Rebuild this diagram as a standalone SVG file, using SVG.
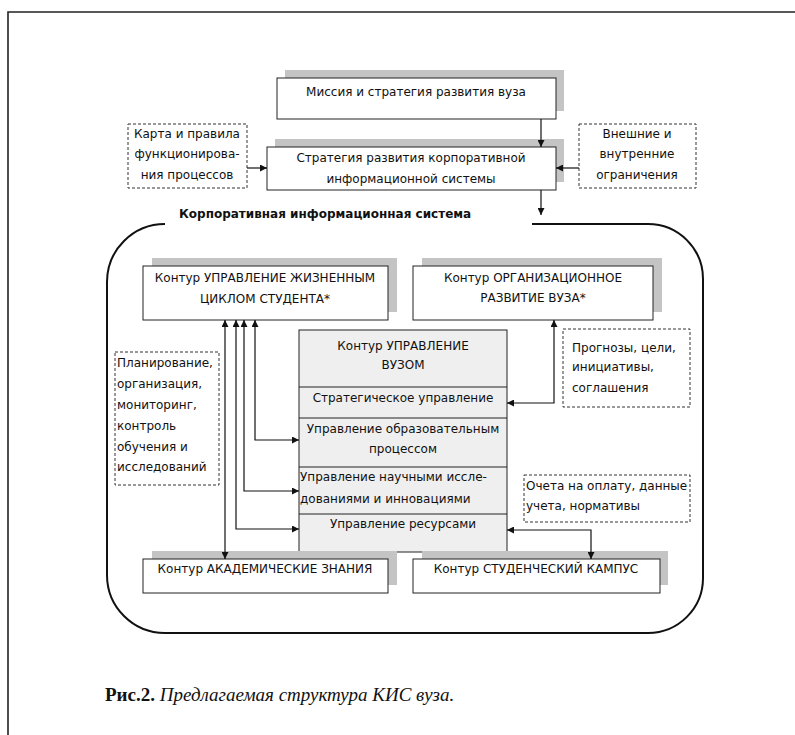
<svg xmlns="http://www.w3.org/2000/svg" width="795" height="735" viewBox="0 0 795 735">
<style>
.t{font-family:"DejaVu Sans","Liberation Sans",sans-serif;font-size:12px;fill:#111}
.c{text-anchor:middle}
.b{font-weight:bold}
.box{fill:#fff;stroke:#222;stroke-width:1}
.sh{fill:#c4c4c4}
.dash{fill:#fff;stroke:#333;stroke-width:1;stroke-dasharray:3,2}
.ln{fill:none;stroke:#111;stroke-width:1.2}
.cap{font-family:"Liberation Serif","DejaVu Serif",serif;font-size:19px;fill:#111}
</style>
<defs>
<marker id="ah" viewBox="0 0 10 10" refX="10" refY="5" markerWidth="7" markerHeight="7" markerUnits="userSpaceOnUse" orient="auto-start-reverse">
<path d="M0,0 L10,5 L0,10 z" fill="#111"/>
</marker>
</defs>
<rect width="795" height="735" fill="#fff"/>
<path d="M8,735 V12 H795" fill="none" stroke="#222" stroke-width="1.6"/>

<g id="kis-outline">
<path d="M532,224 H648 A55,55 0 0 1 703,279 V578 A55,55 0 0 1 648,633 H165 A58,58 0 0 1 107,575 V282 A58,58 0 0 1 165,224" fill="none" stroke="#111" stroke-width="2"/>
<text class="t b" x="179" y="218">Корпоративная информационная система</text>
</g>

<g id="mission">
<rect class="sh" x="285" y="70" width="279" height="41"/>
<rect class="box" x="277" y="78" width="279" height="41"/>
<text class="t c" x="416" y="96">Миссия и стратегия развития вуза</text>
</g>

<g id="strategy">
<rect class="sh" x="275" y="139" width="289" height="43"/>
<rect class="box" x="267" y="147" width="289" height="43"/>
<text class="t c" x="411" y="162">Стратегия развития корпоративной</text>
<text class="t c" x="411" y="183">информационной системы</text>
</g>

<g id="map-rules">
<rect class="dash" x="128" y="124" width="119" height="64"/>
<text class="t c" x="187" y="138">Карта и правила</text>
<text class="t c" x="187" y="158">функционирова-</text>
<text class="t c" x="187" y="179">ния процессов</text>
</g>

<g id="constraints">
<rect class="dash" x="579" y="124" width="117" height="64"/>
<text class="t c" x="637" y="138">Внешние и</text>
<text class="t c" x="637" y="158">внутренние</text>
<text class="t c" x="637" y="179">ограничения</text>
</g>

<g id="lifecycle">
<rect class="sh" x="152" y="258" width="245" height="54"/>
<rect class="box" x="143" y="266" width="245" height="54"/>
<text class="t c" x="265" y="282">Контур УПРАВЛЕНИЕ ЖИЗНЕННЫМ</text>
<text class="t c" x="265" y="303">ЦИКЛОМ СТУДЕНТА*</text>
</g>

<g id="orgdev">
<rect class="sh" x="422" y="258" width="240" height="54"/>
<rect class="box" x="413" y="266" width="240" height="54"/>
<text class="t c" x="533" y="282">Контур ОРГАНИЗАЦИОННОЕ</text>
<text class="t c" x="533" y="302">РАЗВИТИЕ ВУЗА*</text>
</g>

<g id="management">
<rect x="299" y="330" width="208" height="222" fill="#efefef" stroke="#222" stroke-width="1"/>
<line x1="299" y1="387" x2="507" y2="387" stroke="#222"/>
<line x1="299" y1="418" x2="507" y2="418" stroke="#222"/>
<line x1="299" y1="467" x2="507" y2="467" stroke="#222"/>
<line x1="299" y1="514" x2="507" y2="514" stroke="#222"/>
<text class="t c" x="403" y="350">Контур  УПРАВЛЕНИЕ</text>
<text class="t c" x="403" y="369">ВУЗОМ</text>
<text class="t c" x="403" y="402">Стратегическое управление</text>
<text class="t c" x="403" y="433">Управление образовательным</text>
<text class="t c" x="403" y="453">процессом</text>
<text class="t" x="300" y="481">Управление научными иссле-</text>
<text class="t" x="300" y="503">дованиями и инновациями</text>
<text class="t c" x="403" y="528">Управление ресурсами</text>
</g>

<g id="planning">
<rect class="dash" x="115" y="352" width="104" height="133"/>
<text class="t" x="117" y="367">Планирование,</text>
<text class="t" x="117" y="388">организация,</text>
<text class="t" x="117" y="409">мониторинг,</text>
<text class="t" x="117" y="430">контроль</text>
<text class="t" x="117" y="451">обучения и</text>
<text class="t" x="117" y="471">исследований</text>
</g>

<g id="forecasts">
<rect class="dash" x="563" y="329" width="127" height="78"/>
<text class="t" x="572" y="352">Прогнозы, цели,</text>
<text class="t" x="572" y="371">инициативы,</text>
<text class="t" x="572" y="392">соглашения</text>
</g>

<g id="invoices">
<rect class="dash" x="524" y="475" width="166" height="47"/>
<text class="t" x="526" y="490">Очета на оплату, данные</text>
<text class="t" x="526" y="510">учета, нормативы</text>
</g>

<g id="academic">
<rect class="sh" x="152" y="551" width="245" height="34"/>
<rect class="box" x="143" y="559" width="245" height="34"/>
<text class="t c" x="265" y="573">Контур АКАДЕМИЧЕСКИЕ ЗНАНИЯ</text>
</g>

<g id="campus">
<rect class="sh" x="422" y="551" width="246" height="34"/>
<rect class="box" x="413" y="559" width="247" height="34"/>
<text class="t c" x="536" y="573">Контур СТУДЕНЧЕСКИЙ КАМПУС</text>
</g>

<g id="connectors">
<path class="ln" d="M541,119 V147" marker-end="url(#ah)"/>
<path class="ln" d="M541,190 V215" marker-end="url(#ah)"/>
<path class="ln" d="M247,168 H267" marker-end="url(#ah)"/>
<path class="ln" d="M579,168 H556" marker-end="url(#ah)"/>
<path class="ln" d="M225,320 V559" marker-start="url(#ah)" marker-end="url(#ah)"/>
<path class="ln" d="M236,320 V529 H299" marker-start="url(#ah)" marker-end="url(#ah)"/>
<path class="ln" d="M244,320 V491 H299" marker-start="url(#ah)" marker-end="url(#ah)"/>
<path class="ln" d="M255,320 V440 H299" marker-start="url(#ah)" marker-end="url(#ah)"/>
<path class="ln" d="M507,403 H554 V320" marker-start="url(#ah)" marker-end="url(#ah)"/>
<path class="ln" d="M507,530 H591 V559" marker-start="url(#ah)" marker-end="url(#ah)"/>
</g>

<text class="cap" x="105" y="701"><tspan font-weight="bold">Рис.2.</tspan> <tspan font-style="italic">Предлагаемая структура КИС вуза.</tspan></text>
</svg>
